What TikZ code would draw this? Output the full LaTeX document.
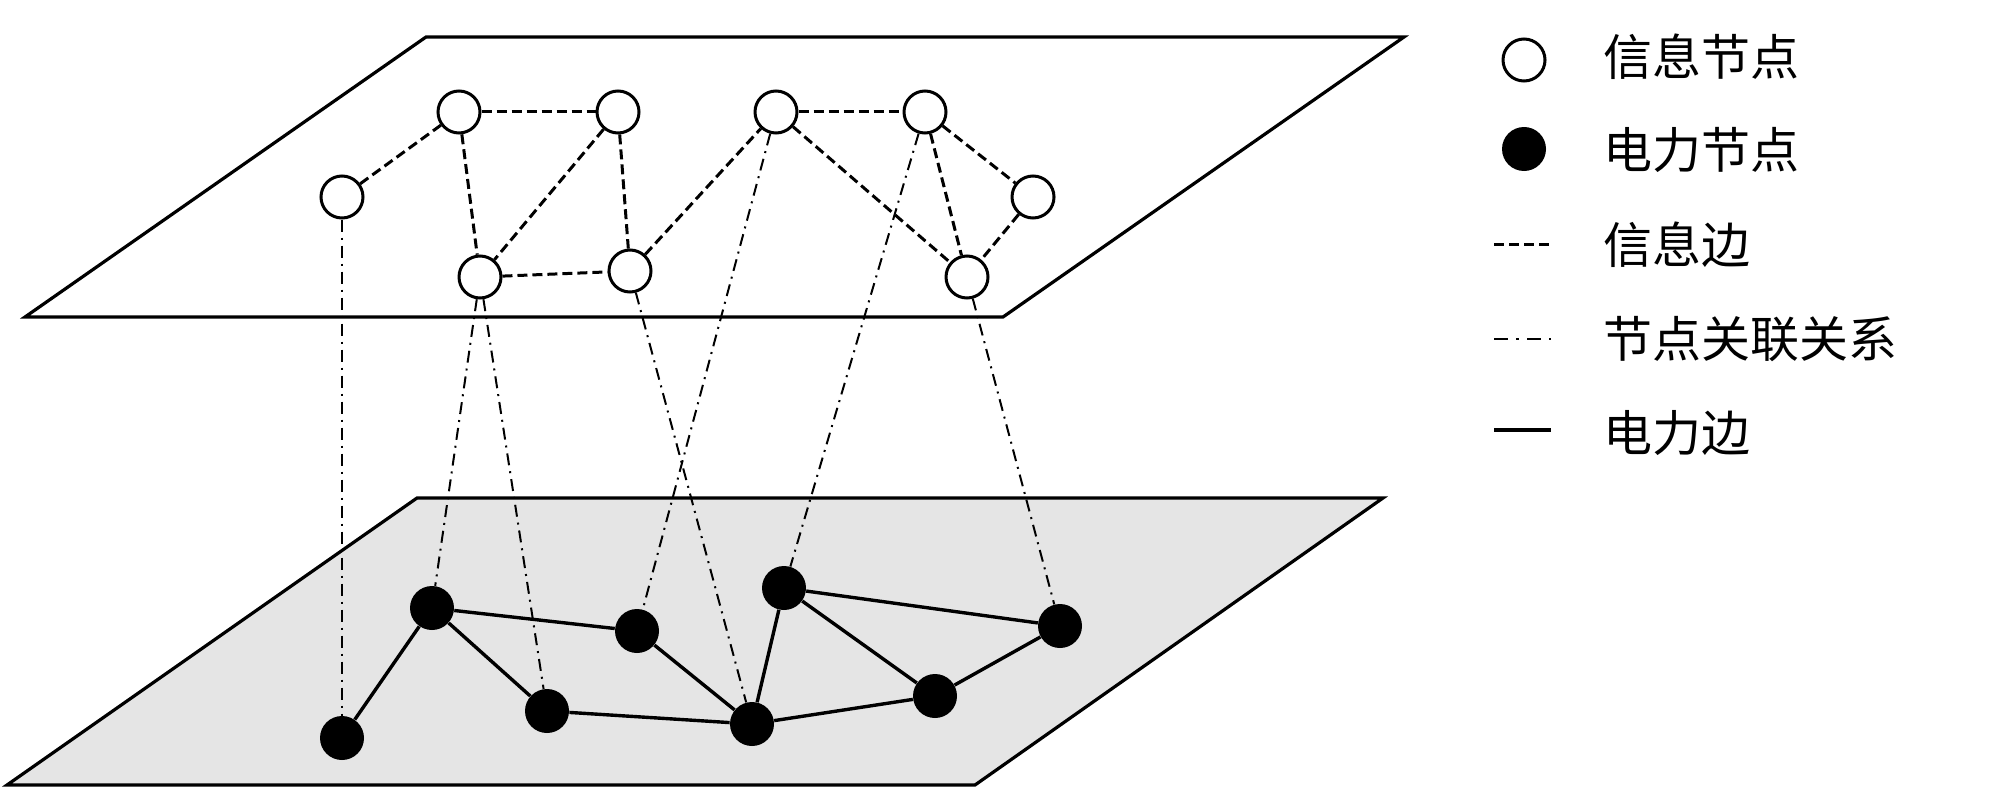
\documentclass[tikz,border=0pt]{standalone}
\usepackage{fontspec}
\newfontfamily\cjk{Noto Sans CJK SC}
\begin{document}
\begin{tikzpicture}[x=0.5pt,y=-0.5pt,
  plane/.style={draw=black,line width=1.6pt,line join=miter},
  infonode/.style={circle,draw=black,fill=white,line width=1.5pt,minimum size=21pt,inner sep=0pt},
  powernode/.style={circle,fill=black,draw=none,minimum size=22pt,inner sep=0pt},
  infoedge/.style={line width=1.5pt,dash pattern=on 5pt off 2.5pt},
  poweredge/.style={line width=1.7pt},
  linkedge/.style={line width=1pt,dash pattern=on 6pt off 3pt on 1pt off 3pt},
  legtext/.style={anchor=west,inner sep=0pt,font=\cjk\fontsize{24.5}{30}\selectfont}
]
\useasboundingbox (0,0) rectangle (2000,792);
% planes
\draw[plane] (426,37) -- (1404,37) -- (1003,317) -- (25,317) -- cycle;
\draw[plane,fill=black!10] (417,498) -- (1383,498) -- (975,785) -- (7,785) -- cycle;
% info nodes
\node[infonode] (A) at (342,197) {};
\node[infonode] (B) at (459,112) {};
\node[infonode] (C) at (618,112) {};
\node[infonode] (D) at (480,277) {};
\node[infonode] (E) at (630,271) {};
\node[infonode] (F) at (776,112) {};
\node[infonode] (G) at (925,112) {};
\node[infonode] (H) at (1033,197) {};
\node[infonode] (I) at (967,277) {};
% power nodes
\node[powernode] (P1) at (342,738) {};
\node[powernode] (P2) at (432,608) {};
\node[powernode] (P3) at (547,711) {};
\node[powernode] (P4) at (637,631) {};
\node[powernode] (P5) at (752,724) {};
\node[powernode] (P6) at (784,588) {};
\node[powernode] (P7) at (935,696) {};
\node[powernode] (P8) at (1060,626) {};
% info edges
\draw[infoedge] (A) -- (B);
\draw[infoedge] (B) -- (C);
\draw[infoedge] (B) -- (D);
\draw[infoedge] (C) -- (D);
\draw[infoedge] (C) -- (E);
\draw[infoedge] (D) -- (E);
\draw[infoedge] (E) -- (F);
\draw[infoedge] (F) -- (G);
\draw[infoedge] (F) -- (I);
\draw[infoedge] (G) -- (H);
\draw[infoedge] (G) -- (I);
\draw[infoedge] (H) -- (I);
% power edges
\draw[poweredge] (P1) -- (P2);
\draw[poweredge] (P2) -- (P4);
\draw[poweredge] (P2) -- (P3);
\draw[poweredge] (P4) -- (P5);
\draw[poweredge] (P3) -- (P5);
\draw[poweredge] (P5) -- (P6);
\draw[poweredge] (P5) -- (P7);
\draw[poweredge] (P6) -- (P7);
\draw[poweredge] (P6) -- (P8);
\draw[poweredge] (P7) -- (P8);
% coupling links
\draw[linkedge] (A) -- (P1);
\draw[linkedge] (D) -- (P2);
\draw[linkedge] (D) -- (P3);
\draw[linkedge] (E) -- (P5);
\draw[linkedge] (F) -- (P4);
\draw[linkedge] (G) -- (P6);
\draw[linkedge] (I) -- (P8);
% legend
\node[infonode] (L1) at (1524,60) {};
\node[powernode] (L2) at (1524,149) {};
\coordinate (L3a) at (1494,244); \coordinate (L3b) at (1551,244);
\coordinate (L4a) at (1494,339); \coordinate (L4b) at (1551,339);
\coordinate (L5a) at (1494,430); \coordinate (L5b) at (1551,430);
\draw[infoedge] (L3a) -- (L3b);
\draw[linkedge,line width=1.4pt,dash pattern=on 7pt off 4pt on 1.5pt off 4pt] (L4a) -- (L4b);
\draw[poweredge] (L5a) -- (L5b);
\node[legtext] (T1) at (1603,57) {信息节点};
\node[legtext] (T2) at (1603,150) {电力节点};
\node[legtext] (T3) at (1603,245) {信息边};
\node[legtext] (T4) at (1603,339) {节点关联关系};
\node[legtext] (T5) at (1603,433) {电力边};
\end{tikzpicture}
\end{document}
